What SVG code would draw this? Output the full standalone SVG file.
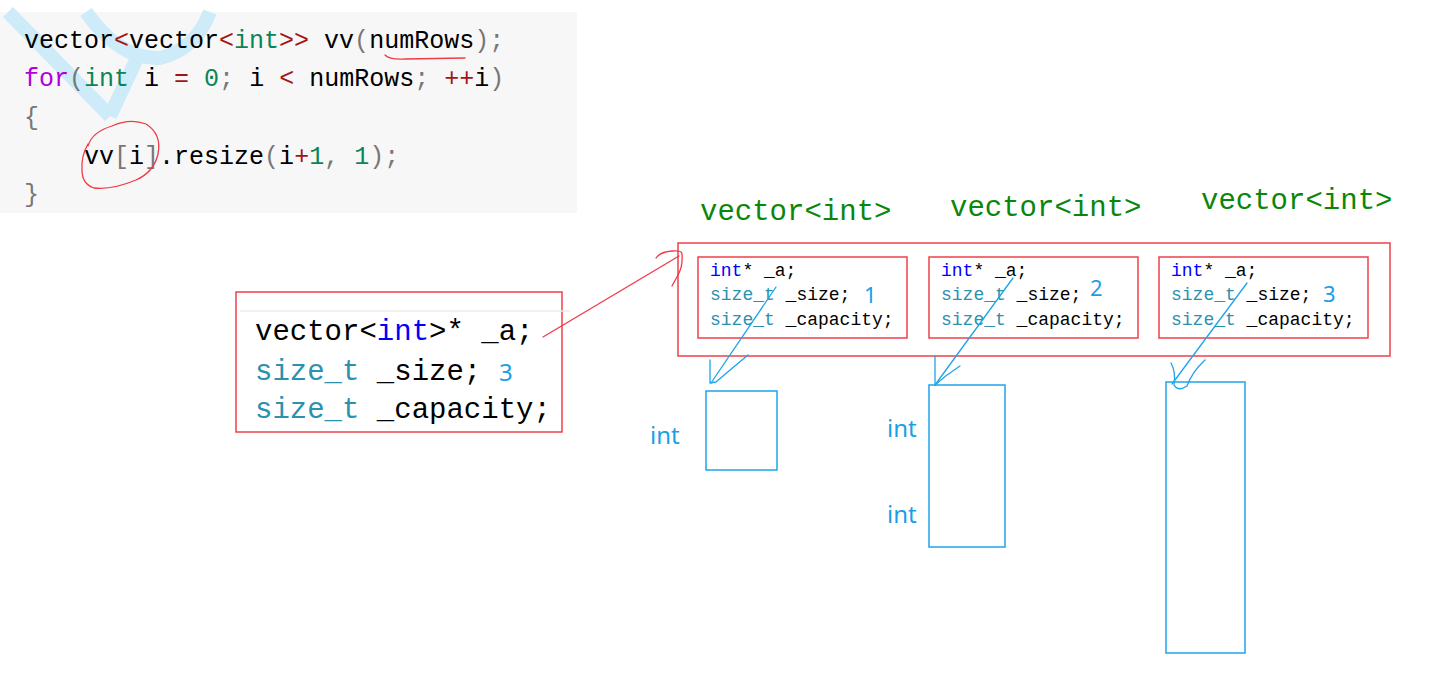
<svg xmlns="http://www.w3.org/2000/svg" width="1443" height="695" viewBox="0 0 1443 695">
<defs>
<style>
.code{font-family:"Liberation Mono","DejaVu Sans Mono",monospace;font-size:25px;fill:#000}
.big{font-family:"Liberation Mono","DejaVu Sans Mono",monospace;font-size:29px;fill:#000}
.small{font-family:"Liberation Mono","DejaVu Sans Mono",monospace;font-size:18px;fill:#000}
.g{fill:#777}
.r{fill:#a31515}
.gr{fill:#098658}
.p{fill:#af00db}
.kw{fill:#0000ff}
.ty{fill:#2b91af}
.lbl{font-family:"Liberation Mono","DejaVu Sans Mono",monospace;font-size:29px;fill:#0a870a}
.hand{font-family:"Noto Sans","Open Sans",sans-serif;font-size:24px;fill:#1a9fe6}
.num{font-family:"Noto Sans","Open Sans",sans-serif;font-size:22px;fill:#1a9fe6}
.redbox{fill:none;stroke:#f0404a;stroke-width:1.5}
.bluebox{fill:none;stroke:#1ea4e9;stroke-width:1.5}
.redink{fill:none;stroke:#f03a46;stroke-width:1.3;stroke-linecap:round;stroke-linejoin:round}
.blueink{fill:none;stroke:#1ea4e9;stroke-width:1.3;stroke-linecap:round;stroke-linejoin:round}
</style>
</defs>
<rect width="1443" height="695" fill="#fff"/>

<g id="code-panel">
<rect x="0" y="12" width="577" height="201" fill="#f7f7f7"/>
<g fill="none" stroke="#cdebf8" stroke-width="14" stroke-linecap="butt">
<path d="M8 12 L110 116"/>
<path d="M138 56 L110 116"/>
<path d="M86 12 Q120 60 160 58 Q195 50 210 12"/>
</g>
<text class="code" x="24" y="48" xml:space="preserve">vector<tspan class="r">&lt;</tspan>vector<tspan class="r">&lt;</tspan><tspan class="gr">int</tspan><tspan class="r">&gt;&gt;</tspan> vv<tspan class="g">(</tspan>numRows<tspan class="g">);</tspan></text>
<text class="code" x="24" y="86" xml:space="preserve"><tspan class="p">for</tspan><tspan class="g">(</tspan><tspan class="gr">int</tspan> i <tspan class="r">=</tspan> <tspan class="gr">0</tspan><tspan class="g">;</tspan> i <tspan class="r">&lt;</tspan> numRows<tspan class="g">;</tspan> <tspan class="r">++</tspan>i<tspan class="g">)</tspan></text>
<text class="code" x="24" y="125"><tspan class="g">{</tspan></text>
<text class="code" x="84" y="164" xml:space="preserve">vv<tspan class="g">[</tspan>i<tspan class="g">]</tspan>.resize<tspan class="g">(</tspan>i<tspan class="r">+</tspan><tspan class="gr">1</tspan><tspan class="g">, </tspan><tspan class="gr">1</tspan><tspan class="g">);</tspan></text>
<text class="code" x="24" y="202"><tspan class="g">}</tspan></text>
<path class="redink" d="M385 55 Q390 60 405 59 L465 58"/>
<path class="redink" d="M88 146 Q92 132 112 126 Q130 118 146 124 Q162 134 158 154 Q154 172 136 180 Q112 190 94 188 Q82 184 82 170 Q81 156 88 144"/>
</g>

<g id="outer-vector">
<rect class="redbox" x="236" y="292" width="326" height="140"/>
<line x1="240" y1="311" x2="570" y2="311" stroke="#ececec" stroke-width="1.5"/>
<text class="big" x="255" y="340" xml:space="preserve">vector&lt;<tspan class="kw">int</tspan>&gt;* _a;</text>
<text class="big" x="255" y="380" xml:space="preserve"><tspan class="ty">size_t</tspan> _size;</text>
<text class="hand" x="499" y="381">3</text>
<text class="big" x="255" y="418" xml:space="preserve"><tspan class="ty">size_t</tspan> _capacity;</text>
</g>

<g id="vector-array">
<rect class="redbox" x="678" y="243" width="712" height="113"/>
</g>

<g id="vec1">
<text class="lbl" x="700" y="220">vector&lt;int&gt;</text>
<rect class="redbox" x="698" y="257" width="209" height="81"/>
<text class="small" x="710" y="276" xml:space="preserve"><tspan class="kw">int</tspan>* _a;</text>
<text class="small" x="710" y="300" xml:space="preserve"><tspan class="ty">size_t</tspan> _size;</text>
<text class="small" x="710" y="325" xml:space="preserve"><tspan class="ty">size_t</tspan> _capacity;</text>
<text class="num" x="864" y="303">1</text>
</g>

<g id="vec2">
<text class="lbl" x="950" y="216">vector&lt;int&gt;</text>
<rect class="redbox" x="929" y="257" width="209" height="81"/>
<text class="small" x="941" y="276" xml:space="preserve"><tspan class="kw">int</tspan>* _a;</text>
<text class="small" x="941" y="300" xml:space="preserve"><tspan class="ty">size_t</tspan> _size;</text>
<text class="small" x="941" y="325" xml:space="preserve"><tspan class="ty">size_t</tspan> _capacity;</text>
<text class="num" x="1090" y="296">2</text>
</g>

<g id="vec3">
<text class="lbl" x="1201" y="209">vector&lt;int&gt;</text>
<rect class="redbox" x="1159" y="257" width="209" height="81"/>
<text class="small" x="1171" y="276" xml:space="preserve"><tspan class="kw">int</tspan>* _a;</text>
<text class="small" x="1171" y="300" xml:space="preserve"><tspan class="ty">size_t</tspan> _size;</text>
<text class="small" x="1171" y="325" xml:space="preserve"><tspan class="ty">size_t</tspan> _capacity;</text>
<text class="num" x="1323" y="302">3</text>
</g>

<g id="arr1">
<rect class="bluebox" x="706" y="391" width="71" height="79"/>
<text class="hand" x="650" y="444">int</text>
</g>

<g id="arr2">
<rect class="bluebox" x="929" y="385" width="76" height="162"/>
<text class="hand" x="887" y="437">int</text>
<text class="hand" x="887" y="523">int</text>
</g>

<g id="arr3">
<rect class="bluebox" x="1166" y="382" width="79" height="271"/>
</g>

<g id="connectors">
<path class="redink" d="M543 337 L679 256"/>
<path class="redink" d="M656 258 Q660 252 672 251 Q682 250 682 254 Q683 266 678 275 L672 286"/>
<path class="blueink" d="M776 287 L711 383"/>
<path class="blueink" d="M710 360 L710 383 L716 382 Q730 370 748 355"/>
<path class="blueink" d="M1013 278 L935 385"/>
<path class="blueink" d="M935 356 L935 385 Q946 375 960 366"/>
<path class="blueink" d="M1247 283 L1172 384"/>
<path class="blueink" d="M1171 363 Q1176 372 1174 385 Q1178 392 1187 386 Q1192 372 1205 360"/>
</g>
</svg>
